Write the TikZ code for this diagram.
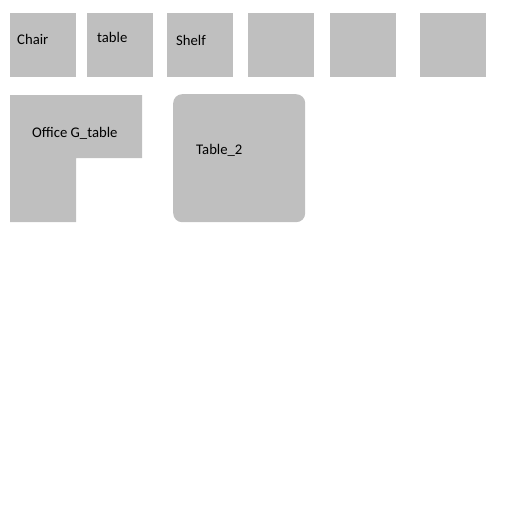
\documentclass[tikz,border=0pt]{standalone}
\usepackage{fontspec}
\setmainfont{Carlito}
\definecolor{boxgray}{RGB}{191,191,191}
\begin{document}
\begin{tikzpicture}[x=1pt,y=-1pt,
  tile/.style={fill=boxgray,draw=none,inner sep=0pt,minimum width=66pt,minimum height=64pt,anchor=north west},
  lbl/.style={inner sep=0pt,anchor=base west,font=\fontsize{14.7pt}{17pt}\selectfont,text=black}]
\useasboundingbox (0,0) rectangle (512,512);
\node[tile] (chair) at (10,13) {};
\node[tile] (table) at (87,13) {};
\node[tile] (shelf) at (167,13) {};
\node[tile] (b4) at (248,13) {};
\node[tile] (b5) at (330,13) {};
\node[tile] (b6) at (420,13) {};
\fill[boxgray] (10,95) -- (142,95) -- (142,158) -- (76,158) -- (76,222) -- (10,222) -- cycle;
\node[fill=boxgray,draw=none,inner sep=0pt,minimum width=132pt,minimum height=128pt,anchor=north west,rounded corners=9pt] (t2) at (173,94) {};
\node[lbl] (lchair) at (17,44.3) {Chair};
\node[lbl] (ltable) at (97,42.7) {table};
\node[lbl] (lshelf) at (176,45.7) {Shelf};
\node[lbl] (loffice) at (32,137.3) {Office G\_table};
\node[lbl] (lt2) at (196,154.3) {Table\_2};
\end{tikzpicture}
\end{document}
